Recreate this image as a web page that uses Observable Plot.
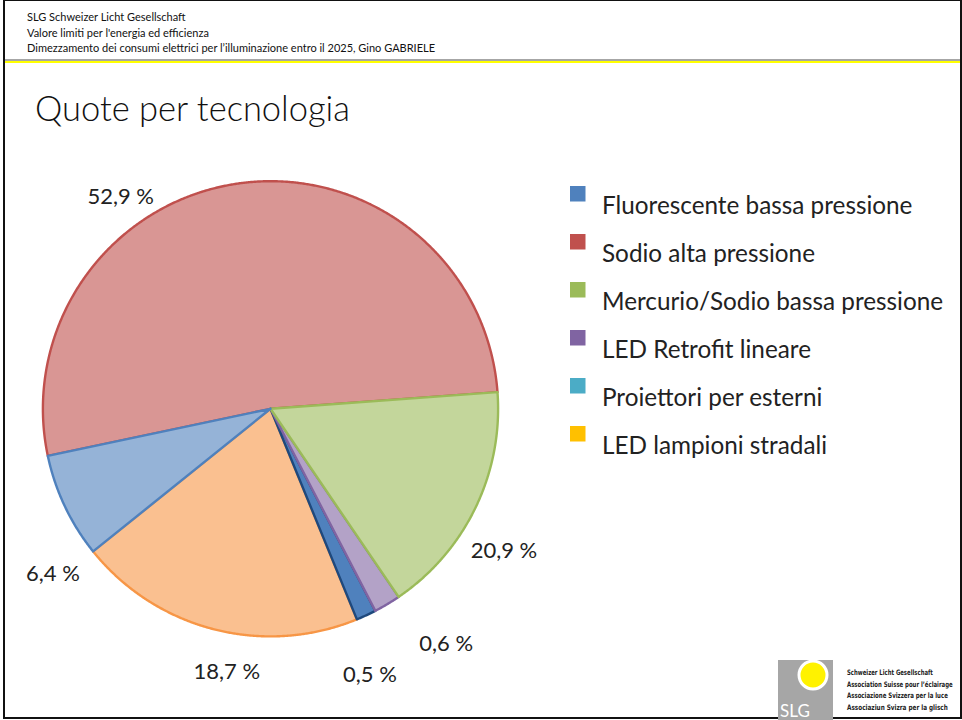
<!DOCTYPE html>
<html>
<head>
<meta charset="utf-8">
<script src="https://cdn.jsdelivr.net/npm/d3@7"></script>
<script src="https://cdn.jsdelivr.net/npm/@observablehq/plot@0.6"></script>
<style>
  html, body { margin: 0; padding: 0; background: #fff; }
  #page { position: relative; width: 962px; height: 720px; overflow: hidden; background: #fff; font-family: Lato, "Open Sans", sans-serif; color: #111; }
  #frame { position: absolute; left: 3px; top: -1px; width: 955px; height: 716px; border: 2px solid #111; }
  #header { position: absolute; left: 27px; top: 9px; font-size: 11px; line-height: 15.5px; color: #111; }
  #rule-gray { position: absolute; left: 5px; top: 59px; width: 955px; height: 1.5px; background: #a6a6a6; }
  #rule-yellow { position: absolute; left: 5px; top: 60.5px; width: 955px; height: 2.5px; background: #ffff00; }
  #title { position: absolute; left: 35px; top: 87px; font-size: 34.5px; font-weight: 300; color: #111; white-space: nowrap; }
  #chart { position: absolute; left: 0; top: 140px; }
  #legend { position: absolute; left: 0; top: 0; }
  #logo { position: absolute; left: 0; top: 0; }
</style>
</head>
<body>
<div id="page">
  <div id="frame"></div>
  <div id="header">SLG Schweizer Licht Gesellschaft<br>Valore limiti per l'energia ed efficienza<br>Dimezzamento dei consumi elettrici per l’illuminazione entro il 2025, Gino GABRIELE</div>
  <div id="rule-gray"></div>
  <div id="rule-yellow"></div>
  <div id="title">Quote per tecnologia</div>
  <div id="chart"></div>
  <svg id="legend" width="962" height="720"></svg>
  <svg id="logo" width="962" height="720"></svg>
</div>
<script>
// ---- data ----
const categories = ["Fluorescente bassa pressione", "Sodio alta pressione", "Mercurio/Sodio bassa pressione", "LED Retrofit lineare", "Proiettori per esterni", "LED lampioni stradali"];
// slice shares as drawn (%)
const shares = [7.46, 52.15, 16.65, 1.90, 1.42, 20.42];
// data label texts as printed
const labelTexts = ["6,4 %", "52,9 %", "20,9 %", "0,6 %", "0,5 %", "18,7 %"];

// ---- styles ----
const legendColors = ["#4f81bd", "#c0504d", "#9bbb59", "#8064a2", "#4bacc6", "#ffc000"];
const sliceFill = ["#95b3d7", "#d99694", "#c3d69b", "#b3a2c7", "#4f81bd", "#fac090"];
const sliceStroke = ["#4f81bd", "#c0504d", "#9bbb59", "#8064a2", "#1f497d", "#f79646"];
const drawOrder = [1, 5, 4, 3, 2, 0];
const startDeg = 231.2;
// label placement: angular nudge from slice middle (deg) and radius (in pie radii)
const labelNudge = [-11.8, -27.2, 5.5, -5.9, 4.4, -5.0];
const labelRadius = [1.20, 1.14, 1.20, 1.29, 1.25, 1.17];

// ---- layout ----
const W = 560, H = 560, top0 = 140;
const cx = 270, cy = 408.3, R = 227.6;
const xDomain = [-cx / R, (W - cx) / R];
const yDomain = [-(top0 + H - cy) / R, (cy - top0) / R];

const rad = Math.PI / 180;
const arcs = d3.pie().sort(null).value(d => d)
  .startAngle(startDeg * rad).endAngle(startDeg * rad + 2 * Math.PI)(shares);

const slices = arcs.map((a, i) => {
  const n = Math.max(2, Math.ceil((a.endAngle - a.startAngle) / 0.005));
  const pts = [{x: 0, y: 0}];
  for (let k = 0; k <= n; k++) {
    const t = a.startAngle + (a.endAngle - a.startAngle) * k / n;
    pts.push({x: Math.sin(t), y: Math.cos(t)});
  }
  pts.push({x: 0, y: 0});
  return {i, pts};
});

const labelData = arcs.map((a, i) => {
  const m = (a.startAngle + a.endAngle) / 2 + labelNudge[i] * rad;
  return {text: labelTexts[i], x: labelRadius[i] * Math.sin(m), y: labelRadius[i] * Math.cos(m)};
});

const marks = drawOrder.map(i => Plot.line(slices[i].pts, {
  x: "x", y: "y", fill: sliceFill[i], stroke: sliceStroke[i], strokeWidth: 2.4, strokeLinejoin: "round"
}));
marks.push(Plot.text(labelData, {
  x: "x", y: "y", text: "text", fontSize: 22, fill: "#222", textAnchor: "middle", lineAnchor: "middle"
}));

const chart = Plot.plot({
  width: W, height: H, margin: 0,
  x: {domain: xDomain, axis: null},
  y: {domain: yDomain, axis: null},
  style: {background: "transparent", overflow: "visible", fontFamily: "Lato, 'Open Sans', sans-serif"},
  marks
});
document.getElementById("chart").appendChild(chart);

// ---- legend ----
const lg = d3.select("#legend");
categories.forEach((c, i) => {
  lg.append("rect").attr("x", 570).attr("y", 186 + i * 48).attr("width", 15.5).attr("height", 15.5).attr("fill", legendColors[i]);
  lg.append("text").attr("x", 602).attr("y", 214 + i * 48).attr("font-size", 24.3)
    .attr("font-family", "Lato, 'Open Sans', sans-serif").attr("fill", "#222").text(c);
});

// ---- logo ----
const lo = d3.select("#logo");
lo.append("rect").attr("x", 778).attr("y", 660).attr("width", 55).attr("height", 60).attr("fill", "#a6a6a6");
lo.append("circle").attr("cx", 813).attr("cy", 675).attr("r", 14).attr("fill", "#fff200").attr("stroke", "#fff").attr("stroke-width", 3);
lo.append("text").attr("x", 780).attr("y", 717).attr("font-size", 17).attr("font-family", "Lato, sans-serif").attr("fill", "#fff").text("SLG");
const logoLines = ["Schweizer Licht Gesellschaft", "Association Suisse pour l’éclairage", "Associazione Svizzera per la luce", "Associaziun Svizra per la glisch"];
const logoLens = [86, 106, 101, 101];
logoLines.forEach((t, i) => {
  const g = lo.append("g");
  const tx = g.append("text").attr("x", 0).attr("y", 0).attr("font-size", 7.5)
    .attr("font-family", "'DejaVu Sans Condensed', 'DejaVu Sans', sans-serif").attr("font-weight", "bold")
    .attr("fill", "#222").text(t);
  const natural = tx.node().getComputedTextLength() || logoLens[i];
  g.attr("transform", `translate(847,${675 + i * 11.7}) scale(${logoLens[i] / natural},1)`);
});
</script>
</body>
</html>
